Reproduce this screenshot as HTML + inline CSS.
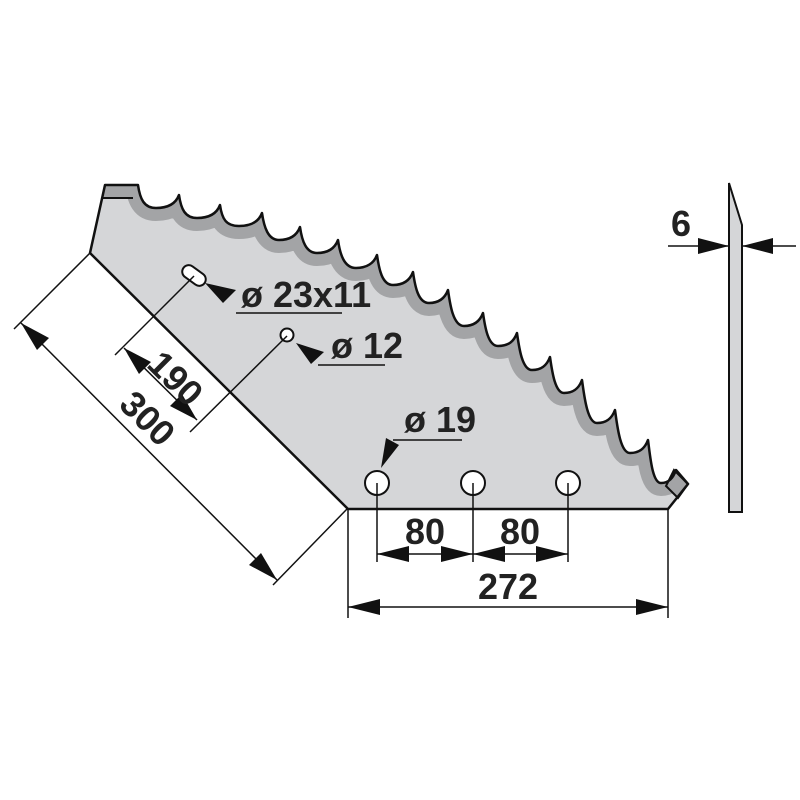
<!DOCTYPE html>
<html><head><meta charset="utf-8"><style>
html,body{margin:0;padding:0;background:#fff;}
svg{display:block;}
text{font-family:"Liberation Sans",Arial,sans-serif;font-weight:bold;fill:#222;}
</style></head><body>
<svg width="800" height="800" viewBox="0 0 800 800" xmlns="http://www.w3.org/2000/svg">
<defs>
<clipPath id="bc"><path d="M90,253 L105,185 L138,185 C140,199 144,208 156,208 C169,208 176,203 179,195 C181,209 185,218 197,218 C210,218 217,213 220,205 C222,219 226,226 239,226 C252,226 259,221 262,213 C264,227 268,240 279,240 C291,240 297,235 300,227 C302,241 306,253 317,253 C329,253 335,248 338,240 C340,254 344,268 356,268 C367,268 374,263 377,255 C379,269 382,285 393,285 C404,285 410,280 413,272 C415,286 418,303 429,303 C439,303 445,298 448,290 C450,304 453,326 464,326 C474,326 480,321 483,313 C485,327 488,346 498,346 C509,346 514,341 517,333 C519,347 522,370 532,370 C542,370 547,365 550,357 C552,371 555,393 564,393 C574,393 579,388 582,380 C584,394 587,423 597,423 C607,423 612,418 615,410 C617,424 620,453 630,453 C640,453 645,448 648,440 C650,454 652,483 661,483 C669,483 673,478 676,470 L688,484 L668,509 L348,509 Z"/></clipPath>
</defs>
<path d="M90,253 L105,185 L138,185 C140,199 144,208 156,208 C169,208 176,203 179,195 C181,209 185,218 197,218 C210,218 217,213 220,205 C222,219 226,226 239,226 C252,226 259,221 262,213 C264,227 268,240 279,240 C291,240 297,235 300,227 C302,241 306,253 317,253 C329,253 335,248 338,240 C340,254 344,268 356,268 C367,268 374,263 377,255 C379,269 382,285 393,285 C404,285 410,280 413,272 C415,286 418,303 429,303 C439,303 445,298 448,290 C450,304 453,326 464,326 C474,326 480,321 483,313 C485,327 488,346 498,346 C509,346 514,341 517,333 C519,347 522,370 532,370 C542,370 547,365 550,357 C552,371 555,393 564,393 C574,393 579,388 582,380 C584,394 587,423 597,423 C607,423 612,418 615,410 C617,424 620,453 630,453 C640,453 645,448 648,440 C650,454 652,483 661,483 C669,483 673,478 676,470 L688,484 L668,509 L348,509 Z" fill="#d5d6d8"/>
<path clip-path="url(#bc)" fill="none" stroke="#a3a4a6" stroke-width="26" d="M138,185 C140,199 144,208 156,208 C169,208 176,203 179,195 C181,209 185,218 197,218 C210,218 217,213 220,205 C222,219 226,226 239,226 C252,226 259,221 262,213 C264,227 268,240 279,240 C291,240 297,235 300,227 C302,241 306,253 317,253 C329,253 335,248 338,240 C340,254 344,268 356,268 C367,268 374,263 377,255 C379,269 382,285 393,285 C404,285 410,280 413,272 C415,286 418,303 429,303 C439,303 445,298 448,290 C450,304 453,326 464,326 C474,326 480,321 483,313 C485,327 488,346 498,346 C509,346 514,341 517,333 C519,347 522,370 532,370 C542,370 547,365 550,357 C552,371 555,393 564,393 C574,393 579,388 582,380 C584,394 587,423 597,423 C607,423 612,418 615,410 C617,424 620,453 630,453 C640,453 645,448 648,440 C650,454 652,483 661,483 C669,483 673,478 676,470"/>
<path d="M105,185 L138,185 L133,198 L102,198 Z" fill="#a3a4a6"/>
<line x1="102" y1="198" x2="133" y2="198" stroke="#111" stroke-width="2"/>
<path d="M674,470 L688,484 L678,498 L666,486 Z" fill="#a3a4a6" stroke="#111" stroke-width="2"/>
<path fill="none" stroke="#111" stroke-width="2.5" stroke-linejoin="round" d="M90,253 L105,185 L138,185 C140,199 144,208 156,208 C169,208 176,203 179,195 C181,209 185,218 197,218 C210,218 217,213 220,205 C222,219 226,226 239,226 C252,226 259,221 262,213 C264,227 268,240 279,240 C291,240 297,235 300,227 C302,241 306,253 317,253 C329,253 335,248 338,240 C340,254 344,268 356,268 C367,268 374,263 377,255 C379,269 382,285 393,285 C404,285 410,280 413,272 C415,286 418,303 429,303 C439,303 445,298 448,290 C450,304 453,326 464,326 C474,326 480,321 483,313 C485,327 488,346 498,346 C509,346 514,341 517,333 C519,347 522,370 532,370 C542,370 547,365 550,357 C552,371 555,393 564,393 C574,393 579,388 582,380 C584,394 587,423 597,423 C607,423 612,418 615,410 C617,424 620,453 630,453 C640,453 645,448 648,440 C650,454 652,483 661,483 C669,483 673,478 676,470 L688,484 L668,509 L348,509 Z"/>

<g fill="#fff" stroke="#111" stroke-width="2">
<rect x="181" y="269" width="26" height="13" rx="6.5" transform="rotate(36 194 275.5)"/>
<circle cx="287" cy="335" r="6.5"/>
<circle cx="377" cy="483" r="12"/>
<circle cx="473" cy="483" r="12"/>
<circle cx="568" cy="483" r="12"/>
</g>

<g stroke="#111" stroke-width="1.5" fill="none">
<line x1="90" y1="253" x2="14" y2="329"/>
<line x1="347" y1="509" x2="273" y2="585"/>
<line x1="21" y1="323" x2="277" y2="580"/>
<line x1="194" y1="276" x2="115" y2="355"/>
<line x1="287" y1="336" x2="190" y2="432"/>
<line x1="124" y1="348" x2="197" y2="420"/>
<line x1="236" y1="313" x2="342" y2="313"/>
<line x1="318" y1="365" x2="385" y2="365"/>
<line x1="393" y1="440" x2="462" y2="440"/>
<line x1="377" y1="483" x2="377" y2="562"/>
<line x1="473" y1="483" x2="473" y2="562"/>
<line x1="568" y1="483" x2="568" y2="562"/>
<line x1="348" y1="509" x2="348" y2="618"/>
<line x1="668" y1="509" x2="668" y2="618"/>
<line x1="377" y1="554" x2="568" y2="554"/>
<line x1="348" y1="607" x2="668" y2="607"/>
<line x1="668" y1="246" x2="796" y2="246"/>
</g>

<g fill="#111">
<polygon points="21,323 49,338 37,350"/>
<polygon points="277,580 249,565 261,553"/>
<polygon points="124,348 151,362 139,374"/>
<polygon points="197,420 170,406 182,394"/>
<polygon points="205,283 236,290 223,303"/>
<polygon points="296,343 324,352 311,364"/>
<polygon points="381,468 386,438 399,445"/>
<polygon points="377,554 409,546 409,562"/>
<polygon points="473,554 441,546 441,562"/>
<polygon points="473,554 505,546 505,562"/>
<polygon points="568,554 536,546 536,562"/>
<polygon points="348,607 380,599 380,615"/>
<polygon points="668,607 636,599 636,615"/>
<polygon points="729,246 698,238 698,254"/>
<polygon points="742,246 773,238 773,254"/>
</g>

<path d="M729,183 L742,225 L742,512 L729,512 Z" fill="#d5d6d8" stroke="#111" stroke-width="2"/>

<g font-size="36">
<text x="241" y="307">ø 23x11</text>
<text x="331" y="358">ø 12</text>
<text x="404" y="432">ø 19</text>
<text x="425" y="544" text-anchor="middle">80</text>
<text x="520" y="544" text-anchor="middle">80</text>
<text x="508" y="599" text-anchor="middle">272</text>
<text x="681" y="236" text-anchor="middle">6</text>
<text x="176" y="391" text-anchor="middle" transform="rotate(45 176 378)">190</text>
<text x="148" y="431" text-anchor="middle" transform="rotate(45 148 418)">300</text>
</g>
</svg>
</body></html>
